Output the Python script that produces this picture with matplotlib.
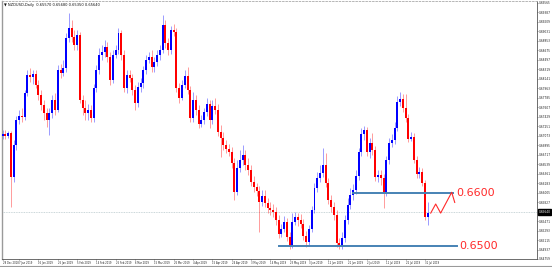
import matplotlib
matplotlib.use("Agg")
import matplotlib.pyplot as plt
import matplotlib.transforms as mtransforms
from matplotlib.lines import Line2D

# ---- data (NZDUSD daily, 28 Dec 2018 .. 1 Aug 2019) ----
opens = [0.6706, 0.6710, 0.6706, 0.6712, 0.6630, 0.6690, 0.6736, 0.6744, 0.6742, 0.6787,
         0.6821, 0.6817, 0.6823, 0.6802, 0.6783, 0.6765, 0.6750, 0.6736, 0.6750, 0.6774,
         0.6755, 0.6830, 0.6825, 0.6834, 0.6890, 0.6909, 0.6892, 0.6877, 0.6896, 0.6774,
         0.6759, 0.6750, 0.6755, 0.6740, 0.6797, 0.6830, 0.6858, 0.6864, 0.6873, 0.6855,
         0.6812, 0.6858, 0.6868, 0.6900, 0.6858, 0.6797, 0.6821, 0.6815, 0.6793, 0.6768,
         0.6798, 0.6806, 0.6830, 0.6849, 0.6855, 0.6836, 0.6845, 0.6858, 0.6868, 0.6915,
         0.6881, 0.6868, 0.6905, 0.6902, 0.6797, 0.6778, 0.6802, 0.6819, 0.6793, 0.6740,
         0.6774, 0.6755, 0.6729, 0.6736, 0.6751, 0.6766, 0.6736, 0.6763, 0.6755, 0.6714,
         0.6703, 0.6690, 0.6682, 0.6676, 0.6656, 0.6601, 0.6646, 0.6661, 0.6671, 0.6652,
         0.6643, 0.6620, 0.6611, 0.6603, 0.6583, 0.6594, 0.6581, 0.6571, 0.6568, 0.6564,
         0.6549, 0.6523, 0.6532, 0.6545, 0.6517, 0.6500, 0.6545, 0.6554, 0.6549, 0.6541,
         0.6519, 0.6508, 0.6532, 0.6568, 0.6609, 0.6628, 0.6637, 0.6652, 0.6618, 0.6586,
         0.6573, 0.6558, 0.6506, 0.6500, 0.6515, 0.6549, 0.6577, 0.6596, 0.6605, 0.6631,
         0.6676, 0.6710, 0.6718, 0.6676, 0.6693, 0.6680, 0.6630, 0.6633, 0.6628, 0.6601,
         0.6661, 0.6693, 0.6699, 0.6721, 0.6770, 0.6776, 0.6759, 0.6740, 0.6701, 0.6705,
         0.6661, 0.6635, 0.6639, 0.6618, 0.6554]
closes = [0.6710, 0.6706, 0.6712, 0.6630, 0.6690, 0.6736, 0.6744, 0.6742, 0.6787, 0.6821,
          0.6817, 0.6823, 0.6802, 0.6783, 0.6765, 0.6750, 0.6736, 0.6750, 0.6774, 0.6755,
          0.6830, 0.6825, 0.6834, 0.6890, 0.6909, 0.6892, 0.6877, 0.6896, 0.6774, 0.6759,
          0.6750, 0.6755, 0.6740, 0.6797, 0.6830, 0.6858, 0.6864, 0.6873, 0.6855, 0.6812,
          0.6858, 0.6868, 0.6900, 0.6858, 0.6797, 0.6821, 0.6815, 0.6793, 0.6768, 0.6798,
          0.6806, 0.6830, 0.6849, 0.6855, 0.6836, 0.6845, 0.6858, 0.6868, 0.6915, 0.6881,
          0.6868, 0.6905, 0.6902, 0.6797, 0.6778, 0.6802, 0.6819, 0.6793, 0.6740, 0.6774,
          0.6755, 0.6729, 0.6736, 0.6751, 0.6766, 0.6736, 0.6763, 0.6755, 0.6714, 0.6703,
          0.6690, 0.6682, 0.6676, 0.6656, 0.6601, 0.6646, 0.6661, 0.6671, 0.6652, 0.6643,
          0.6620, 0.6611, 0.6603, 0.6583, 0.6594, 0.6581, 0.6571, 0.6568, 0.6564, 0.6549,
          0.6523, 0.6532, 0.6545, 0.6517, 0.6500, 0.6545, 0.6554, 0.6549, 0.6541, 0.6519,
          0.6508, 0.6532, 0.6568, 0.6609, 0.6628, 0.6637, 0.6652, 0.6618, 0.6586, 0.6573,
          0.6558, 0.6506, 0.6500, 0.6515, 0.6549, 0.6577, 0.6596, 0.6605, 0.6631, 0.6676,
          0.6710, 0.6718, 0.6676, 0.6693, 0.6680, 0.6630, 0.6633, 0.6628, 0.6601, 0.6661,
          0.6693, 0.6699, 0.6721, 0.6770, 0.6776, 0.6759, 0.6740, 0.6701, 0.6705, 0.6661,
          0.6635, 0.6639, 0.6618, 0.6554, 0.6562]
highs = [0.6718, 0.6718, 0.6716, 0.6716, 0.6699, 0.6744, 0.6755, 0.6759, 0.6793, 0.6830,
         0.6834, 0.6830, 0.6830, 0.6812, 0.6793, 0.6774, 0.6759, 0.6759, 0.6783, 0.6787,
         0.6840, 0.6842, 0.6849, 0.6900, 0.6937, 0.6924, 0.6905, 0.6905, 0.6902, 0.6783,
         0.6774, 0.6766, 0.6765, 0.6804, 0.6840, 0.6872, 0.6877, 0.6887, 0.6883, 0.6864,
         0.6868, 0.6877, 0.6909, 0.6905, 0.6868, 0.6830, 0.6830, 0.6823, 0.6802, 0.6808,
         0.6815, 0.6838, 0.6858, 0.6864, 0.6868, 0.6855, 0.6868, 0.6877, 0.6933, 0.6924,
         0.6890, 0.6913, 0.6917, 0.6909, 0.6806, 0.6812, 0.6830, 0.6836, 0.6800, 0.6789,
         0.6783, 0.6765, 0.6746, 0.6759, 0.6778, 0.6774, 0.6774, 0.6778, 0.6766, 0.6727,
         0.6714, 0.6699, 0.6691, 0.6686, 0.6665, 0.6661, 0.6680, 0.6690, 0.6680, 0.6665,
         0.6652, 0.6631, 0.6618, 0.6613, 0.6605, 0.6605, 0.6590, 0.6583, 0.6579, 0.6573,
         0.6558, 0.6541, 0.6556, 0.6553, 0.6526, 0.6562, 0.6564, 0.6562, 0.6560, 0.6551,
         0.6528, 0.6539, 0.6575, 0.6618, 0.6639, 0.6652, 0.6684, 0.6675, 0.6628, 0.6596,
         0.6583, 0.6568, 0.6515, 0.6526, 0.6558, 0.6590, 0.6609, 0.6616, 0.6643, 0.6684,
         0.6721, 0.6725, 0.6723, 0.6703, 0.6712, 0.6688, 0.6643, 0.6643, 0.6635, 0.6669,
         0.6703, 0.6710, 0.6733, 0.6781, 0.6789, 0.6785, 0.6785, 0.6748, 0.6714, 0.6712,
         0.6669, 0.6648, 0.6646, 0.6624, 0.6582]
lows = [0.6701, 0.6701, 0.6703, 0.6573, 0.6620, 0.6680, 0.6729, 0.6733, 0.6736, 0.6781,
        0.6808, 0.6804, 0.6797, 0.6774, 0.6755, 0.6736, 0.6723, 0.6708, 0.6740, 0.6746,
        0.6751, 0.6815, 0.6819, 0.6826, 0.6883, 0.6883, 0.6868, 0.6868, 0.6768, 0.6746,
        0.6736, 0.6736, 0.6733, 0.6733, 0.6789, 0.6823, 0.6849, 0.6855, 0.6845, 0.6802,
        0.6806, 0.6853, 0.6860, 0.6849, 0.6789, 0.6787, 0.6808, 0.6783, 0.6755, 0.6761,
        0.6789, 0.6797, 0.6823, 0.6843, 0.6826, 0.6826, 0.6838, 0.6849, 0.6862, 0.6872,
        0.6858, 0.6860, 0.6894, 0.6789, 0.6768, 0.6774, 0.6797, 0.6785, 0.6733, 0.6733,
        0.6746, 0.6721, 0.6723, 0.6729, 0.6744, 0.6721, 0.6729, 0.6748, 0.6706, 0.6667,
        0.6680, 0.6675, 0.6669, 0.6646, 0.6586, 0.6596, 0.6639, 0.6652, 0.6643, 0.6633,
        0.6613, 0.6601, 0.6594, 0.6526, 0.6575, 0.6573, 0.6562, 0.6558, 0.6554, 0.6539,
        0.6515, 0.6517, 0.6526, 0.6509, 0.6494, 0.6496, 0.6539, 0.6538, 0.6534, 0.6511,
        0.6498, 0.6500, 0.6526, 0.6562, 0.6601, 0.6620, 0.6630, 0.6611, 0.6579, 0.6564,
        0.6549, 0.6498, 0.6494, 0.6494, 0.6508, 0.6541, 0.6569, 0.6586, 0.6598, 0.6624,
        0.6669, 0.6699, 0.6669, 0.6665, 0.6671, 0.6622, 0.6620, 0.6614, 0.6571, 0.6594,
        0.6654, 0.6686, 0.6691, 0.6716, 0.6763, 0.6751, 0.6733, 0.6695, 0.6697, 0.6656,
        0.6628, 0.6628, 0.6613, 0.6549, 0.6539]

xtick_bars = [0, 6, 13, 20, 27, 34, 41, 48, 55, 62, 69, 76, 83, 90, 97, 104,
              111, 118, 125, 132, 139, 146, 153]
xtick_labels = ["28 Dec 2018", "7 Jan 2019", "16 Jan 2019", "25 Jan 2019", "5 Feb 2019",
                "14 Feb 2019", "25 Feb 2019", "6 Mar 2019", "15 Mar 2019", "26 Mar 2019",
                "4 Apr 2019", "15 Apr 2019", "24 Apr 2019", "3 May 2019", "14 May 2019",
                "23 May 2019", "3 Jun 2019", "12 Jun 2019", "21 Jun 2019", "2 Jul 2019",
                "11 Jul 2019", "22 Jul 2019", "31 Jul 2019"]
ytick_vals = [0.69565, 0.69387, 0.69209, 0.69031, 0.68853, 0.68675, 0.68497, 0.68319,
              0.68141, 0.67963, 0.67785, 0.67607, 0.67429, 0.67251, 0.67073, 0.66895,
              0.66717, 0.66539, 0.66361, 0.66183, 0.66005, 0.65827, 0.65471,
              0.65293, 0.65115, 0.64937, 0.64759]
current_price = 0.65640
level_upper = 0.6600
level_lower = 0.6500
level_upper_bars = [127, 163]
level_lower_bars = [100, 164.5]
proj_bars = [155.1, 156.9, 158.7, 162.7, 163.8]
proj_prices = [0.6562, 0.6579, 0.6562, 0.6601, 0.6582]
title_text = "\u25bc NZDUSD,Daily  0.65570 0.65680 0.65350 0.65640"

BULL = "#0000ff"
BEAR = "#ff0000"

fig = plt.figure(figsize=(5.52, 2.67), dpi=100)
fig.patch.set_facecolor("white")
ax = fig.add_axes([2 / 552, 8 / 267, 535 / 552, 258 / 267])

n = len(closes)
xs = list(range(n))
cols = [BULL if c >= o else BEAR for o, c in zip(opens, closes)]
bottoms = [min(o, c) for o, c in zip(opens, closes)]
heights = [max(abs(c - o), 0.00004) for o, c in zip(opens, closes)]

ax.vlines(xs, lows, highs, colors=cols, linewidth=0.6, alpha=0.45, zorder=2)
ax.bar(xs, heights, bottom=bottoms, width=0.72, color=cols, linewidth=0, zorder=3)

# current price dotted line
ax.axhline(current_price, color="#b8c8cc", linewidth=0.6, linestyle=(0, (1, 1)), zorder=1)

# support / resistance levels
ax.plot(level_upper_bars, [level_upper, level_upper], color="#4682b4", linewidth=1.4, zorder=4)
ax.plot(level_lower_bars, [level_lower, level_lower], color="#4682b4", linewidth=1.4, zorder=4)
ax.text(level_upper_bars[1] + 1.5, level_upper, "0.6600", color="#ff2a2a", fontsize=8,
        va="center", ha="left", zorder=5)
ax.text(level_lower_bars[1] + 1.0, level_lower, "0.6500", color="#ff2a2a", fontsize=8,
        va="center", ha="left", zorder=5)
ax.plot(proj_bars, proj_prices, color="#ff2a2a", linewidth=0.8, zorder=5)

ax.set_xlim(-0.2, 193.6)
ax.set_ylim(0.64759, 0.69597)

ax.set_xticks(xtick_bars)
ax.set_xticklabels(xtick_labels, fontsize=1.8, ha="left")
ax.yaxis.tick_right()
ax.set_yticks(ytick_vals)
ax.set_yticklabels([f"{v:.5f}" for v in ytick_vals], fontsize=2.1)
ax.tick_params(axis="both", length=1.0, width=0.4, pad=0.3, colors="#333333",
               labelcolor="#222222")

ax.spines["left"].set_color("#9a9a9a")
ax.spines["left"].set_linewidth(1.0)
ax.spines["top"].set_color("#aaaaaa")
ax.spines["top"].set_linestyle((0, (2, 2)))
ax.spines["top"].set_linewidth(0.6)
ax.spines["right"].set_color("#555555")
ax.spines["right"].set_linewidth(0.6)
ax.spines["bottom"].set_color("#555555")
ax.spines["bottom"].set_linewidth(0.6)

# current price box on the right axis
trans = mtransforms.blended_transform_factory(ax.transAxes, ax.transData)
ax.text(1.003, current_price, f"{current_price:.5f}", transform=trans, fontsize=2.1,
        color="white", va="center", ha="left",
        bbox=dict(boxstyle="square,pad=0.2", fc="black", ec="black"), zorder=6, clip_on=False)

# title
ax.text(0.003, 0.993, title_text, transform=ax.transAxes, fontsize=2.6, va="top", ha="left",
        color="#111111")

fig.add_artist(Line2D([0, 1], [1.0 / 267, 1.0 / 267], color="#9a9a9a", linewidth=0.8))

fig.savefig("out.png", dpi=100, facecolor="white")
